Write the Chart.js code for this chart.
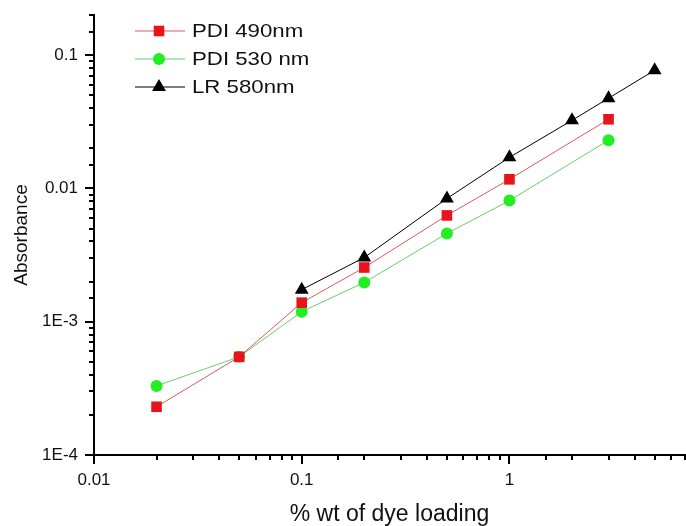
<!DOCTYPE html>
<html>
<head>
<meta charset="utf-8">
<script src="https://cdn.jsdelivr.net/npm/chart.js@4/dist/chart.umd.min.js"></script>
<style>
  html, body { margin: 0; padding: 0; background: #ffffff; overflow: hidden; }
  #wrap { width: 686px; height: 526px; position: relative; overflow: hidden; }
  #c { display: block; }
</style>
</head>
<body>
<div id="wrap"><canvas id="c" width="693" height="526"></canvas></div>
<script>
// ---- data ----
const xPDI = [0.02, 0.05, 0.1, 0.2, 0.5, 1, 3];
const xLR = [0.1, 0.2, 0.5, 1, 2, 3, 5];
const pdi490 = [0.00023, 0.000545, 0.00139, 0.00255, 0.00627, 0.0117, 0.033];
const pdi530 = [0.00033, 0.000545, 0.00119, 0.00197, 0.00459, 0.0081, 0.023];
const lr580 = [0.00174, 0.00303, 0.0084, 0.0171, 0.0324, 0.0475, 0.077];
const seriesNames = ['PDI 490nm', 'PDI 530 nm', 'LR 580nm'];
const xTickLabels = {0.01: '0.01', 0.1: '0.1', 1: '1'};
const yTickLabels = {0.0001: '1E-4', 0.001: '1E-3', 0.01: '0.01', 0.1: '0.1'};

function pts(xs, ys) { return xs.map((x, i) => ({x: x, y: ys[i]})); }
function isDecade(v) { const l = Math.log10(v); return Math.abs(l - Math.round(l)) < 1e-9; }
function labelFor(map, v) {
  for (const k in map) { if (Math.abs(Math.log10(+k) - Math.log10(v)) < 1e-9) return map[k]; }
  return '';
}

const FONT = "'Liberation Sans', Arial, sans-serif";

const tickPlugin = {
  id: 'customTicks',
  afterDraw(chart) {
    const ctx = chart.ctx;
    const xs = chart.scales.x, ys = chart.scales.y;
    const area = chart.chartArea;
    ctx.save();
    ctx.strokeStyle = '#000';
    ctx.lineWidth = 2;
    xs.ticks.forEach(t => {
      const px = Math.round(xs.getPixelForValue(t.value));
      if (px < area.left - 1 || px > area.right + 1) return;
      const len = isDecade(t.value) ? 9 : 5;
      ctx.beginPath();
      ctx.moveTo(px, area.bottom);
      ctx.lineTo(px, area.bottom + len);
      ctx.stroke();
    });
    ys.ticks.forEach(t => {
      const py = Math.round(ys.getPixelForValue(t.value));
      if (py < area.top - 1 || py > area.bottom + 1) return;
      const len = isDecade(t.value) ? 9 : 5;
      ctx.beginPath();
      ctx.moveTo(area.left, py);
      ctx.lineTo(area.left - len, py);
      ctx.stroke();
    });
    ctx.restore();
  }
};

function drawMarker(ctx, style, x, y, r, color) {
  ctx.fillStyle = color;
  ctx.beginPath();
  if (style === 'rect') {
    const s = Math.SQRT1_2 * r;
    ctx.rect(x - s, y - s, 2 * s, 2 * s);
  } else if (style === 'circle') {
    ctx.arc(x, y, r, 0, Math.PI * 2);
  } else if (style === 'triangle') {
    ctx.moveTo(x, y - r);
    ctx.lineTo(x + r * Math.cos(Math.PI / 6), y + r / 2);
    ctx.lineTo(x - r * Math.cos(Math.PI / 6), y + r / 2);
    ctx.closePath();
  }
  ctx.fill();
}

const legendPlugin = {
  id: 'insideLegend',
  afterDraw(chart) {
    const ctx = chart.ctx;
    ctx.save();
    chart.data.datasets.forEach((ds, i) => {
      const y = 31 + i * 28;
      ctx.strokeStyle = ds.borderColor;
      ctx.lineWidth = 1;
      ctx.beginPath();
      ctx.moveTo(135, y);
      ctx.lineTo(185, y);
      ctx.stroke();
      drawMarker(ctx, ds.pointStyle, 159, y, ds.pointRadius, ds.pointBackgroundColor);
      ctx.save();
      ctx.translate(192, y + 1);
      ctx.scale(1.17, 1);
      ctx.fillStyle = '#111';
      ctx.font = '19px ' + FONT;
      ctx.textBaseline = 'middle';
      ctx.textAlign = 'left';
      ctx.fillText(ds.label, 0, 0);
      ctx.restore();
    });
    ctx.restore();
  }
};

new Chart(document.getElementById('c'), {
  type: 'line',
  data: {
    datasets: [
      {
        label: seriesNames[0], data: pts(xPDI, pdi490),
        borderColor: 'rgba(215,60,60,0.85)', borderWidth: 1,
        pointStyle: 'rect', pointRadius: 7.5, pointBackgroundColor: '#e8141c',
        pointBorderWidth: 0, pointBorderColor: '#e8141c', tension: 0
      },
      {
        label: seriesNames[1], data: pts(xPDI, pdi530),
        borderColor: 'rgba(90,200,90,0.9)', borderWidth: 1,
        pointStyle: 'circle', pointRadius: 6, pointBackgroundColor: '#22ee22',
        pointBorderWidth: 0, pointBorderColor: '#22ee22', tension: 0
      },
      {
        label: seriesNames[2], data: pts(xLR, lr580),
        borderColor: '#000', borderWidth: 1,
        pointStyle: 'triangle', pointRadius: 8, pointBackgroundColor: '#000',
        pointBorderWidth: 0, pointBorderColor: '#000', tension: 0
      }
    ]
  },
  options: {
    responsive: false,
    animation: false,
    layout: { padding: { top: 15, right: 0, left: 0, bottom: 0 } },
    plugins: { legend: { display: false }, tooltip: { enabled: false } },
    scales: {
      x: {
        type: 'logarithmic', min: 0.01, max: 7,
        grid: { display: false, drawTicks: false },
        border: { display: true, color: '#000', width: 2 },
        ticks: {
          autoSkip: false, maxRotation: 0, padding: 15, color: '#111',
          font: { family: FONT, size: 17 },
          callback: (v) => labelFor(xTickLabels, v)
        },
        title: { display: true, text: '% wt of dye loading', color: '#111',
                 font: { family: FONT, size: 23 }, padding: { top: 0, bottom: -2 } },
        afterFit: (s) => { s.height = 71; s.paddingLeft = 0; s.paddingRight = 0; }
      },
      y: {
        type: 'logarithmic', min: 0.0001, max: 0.2,
        grid: { display: false, drawTicks: false },
        border: { display: true, color: '#000', width: 2 },
        ticks: {
          autoSkip: false, padding: 16, color: '#111',
          font: { family: FONT, size: 17 },
          callback: (v) => labelFor(yTickLabels, v)
        },
        title: { display: true, text: 'Absorbance', color: '#111',
                 font: { family: FONT, size: 19 }, padding: { top: 10, bottom: 0 } },
        afterFit: (s) => { s.width = 94; s.paddingTop = 0; s.paddingBottom = 0; }
      }
    }
  },
  plugins: [tickPlugin, legendPlugin]
});
</script>
</body>
</html>
